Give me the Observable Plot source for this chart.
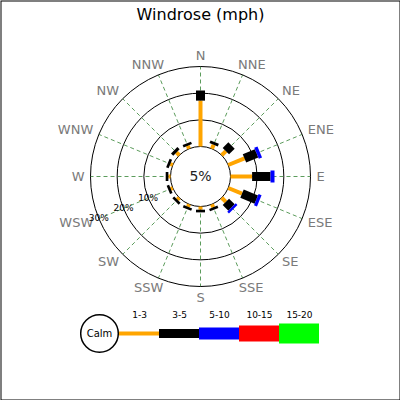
<!DOCTYPE html>
<html><head><meta charset="utf-8">
<script src="https://cdn.jsdelivr.net/npm/d3@7"></script>
<script src="https://cdn.jsdelivr.net/npm/@observablehq/plot@0.6"></script>
<style>
body{margin:0;background:#fff;}
#wrap{position:relative;width:400px;height:400px;font-family:"DejaVu Sans",sans-serif;}
#wrap svg{position:absolute;left:0;display:block;font-family:"DejaVu Sans",sans-serif;}
</style></head><body><div id="wrap"></div>
<script>
const title = "Windrose (mph)";
const directions = ["N","NNE","NE","ENE","E","ESE","SE","SSE","S","SSW","SW","WSW","W","WNW","NW","NNW"];
const speedClasses = ["1-3","3-5","5-10","10-15","15-20"];
const speedColors = ["orange","black","blue","red","#00ff00"];
const calmValue = 5;
const ringValues = [10, 20, 30];
// percent of time per direction, for each speed class
const s1_3   = [17.2, 1.6, 2.2, 6.6, 8.1, 5.6, 2.2, 1.2, 1.2, 1.0, 1.0, 0.8, 0.8, 1.0, 1.5, 1.2];
const s3_5   = [3.8, 1.1, 3.0, 4.9, 6.9, 5.8, 3.0, 1.0, 1.0, 1.0, 1.0, 1.0, 1.0, 1.0, 1.2, 1.0];
const s5_10  = [0, 0, 0, 1.3, 1.5, 1.2, 0.9, 0, 0, 0, 0, 0, 0, 0, 0, 0];
const s10_15 = [0, 0, 0, 0, 0, 0, 0, 0, 0, 0, 0, 0, 0, 0, 0, 0];
const s15_20 = [0, 0, 0, 0, 0, 0, 0, 0, 0, 0, 0, 0, 0, 0, 0, 0];
const series = [s1_3, s3_5, s5_10, s10_15, s15_20];

// styling
const widths = [4, 9, 12, 16, 20];
const K = 400 / 150;      // pixels per % unit
const C = 11.25;          // calm circle radius in % units
const labelR = 115 / K;   // direction label inner radius
const labelFont = 13;
const step = 360 / directions.length;
const rad = a => a * Math.PI / 180;
const px = (r, a) => r * Math.sin(rad(a));
const py = (r, a) => r * Math.cos(rad(a));

// measure label widths to push each label box outward
const ctx = document.createElement("canvas").getContext("2d");
ctx.font = `${labelFont}px "DejaVu Sans"`;
const labelW = directions.map(d => ctx.measureText(d).width);
const offX = i => {
  const s = Math.sin(rad(i * step));
  if (Math.abs(s) < 1e-9) return 0;
  return Math.sign(s) * (labelW[i] / 2 + 1) * Math.min(1, Math.abs(s) * 1.3) / K;
};
const offY = i => Math.cos(rad(i * step)) * 6 / K;

const segs = [];
directions.forEach((dir, i) => {
  let acc = 0;
  series.forEach((arr, k) => {
    const v = arr[i];
    if (v > 0) { segs.push({dir, a: i * step, k, r0: C + acc, r1: C + acc + v}); acc += v; }
  });
});
const angles = directions.map((d, i) => i * step);
const ringAngle = directions.indexOf("WSW") * step;

const main = Plot.plot({
  width: 400, height: 400, margin: 0,
  x: {domain: [-75, 75], axis: null},
  y: {domain: [-84, 66], axis: null},
  r: {type: "linear", domain: [0, 75], range: [0, 200]},
  color: {type: "identity"},
  marks: [
    Plot.frame({stroke: "black", inset: 0.5}),
    Plot.text([title], {frameAnchor: "top", dy: 14, lineAnchor: "middle", fontSize: 16, fill: "black"}),
    Plot.link(angles, {x1: a => px(C, a), y1: a => py(C, a), x2: a => px(C + 30, a), y2: a => py(C + 30, a),
      stroke: "#5c9c5c", strokeWidth: 1, strokeDasharray: "4,3"}),
    Plot.dot(ringValues, {x: () => 0, y: () => 0, r: v => C + v, stroke: "black", fill: "none", strokeWidth: 1}),
    Plot.dot([calmValue], {x: () => 0, y: () => 0, r: () => C, stroke: "black", fill: "white", strokeWidth: 1}),
    Plot.link(segs, {x1: d => px(d.r0, d.a), y1: d => py(d.r0, d.a), x2: d => px(d.r1, d.a), y2: d => py(d.r1, d.a),
      stroke: d => speedColors[d.k], strokeWidth: d => widths[d.k], strokeLinecap: "butt"}),
    Plot.text(directions, {
      x: (d, i) => px(labelR, i * step) + offX(i),
      y: (d, i) => py(labelR, i * step) + offY(i),
      text: d => d, fontSize: labelFont, fill: "#7a7a7a"}),
    Plot.text(ringValues, {x: v => px(C + v, ringAngle), y: v => py(C + v, ringAngle), text: v => v + "%",
      fontSize: 9, fill: "black"}),
    Plot.text([calmValue], {x: () => 0, y: () => 0, text: v => v + "%", fontSize: 14, fill: "#222"})
  ]
});
main.style.top = "0px";

const legendItems = ["Calm", ...speedClasses];
const legend = Plot.plot({
  width: 400, height: 60, marginTop: 0, marginBottom: 0, marginLeft: 79, marginRight: 81,
  x: {type: "band", domain: legendItems, padding: 0, axis: null},
  y: {domain: [-1, 1], axis: null},
  color: {type: "identity"},
  marks: [
    Plot.tickY(speedClasses, {x: d => d, y: () => 0, stroke: (d, i) => speedColors[i], strokeWidth: (d, i) => widths[i]}),
    Plot.dot(["Calm"], {x: d => d, y: () => 0, r: 18.8, fill: "white", stroke: "black"}),
    Plot.text(["Calm"], {x: d => d, y: () => 0, text: d => d, fontSize: 10, fill: "black"}),
    Plot.text(speedClasses, {x: d => d, y: () => 0, dy: -18, text: d => d, fontSize: 9, fill: "black"})
  ]
});
legend.style.top = "303px";
legend.style.background = "transparent";
main.style.background = "white";

const wrap = document.getElementById("wrap");
wrap.appendChild(main);
wrap.appendChild(legend);
</script></body></html>
